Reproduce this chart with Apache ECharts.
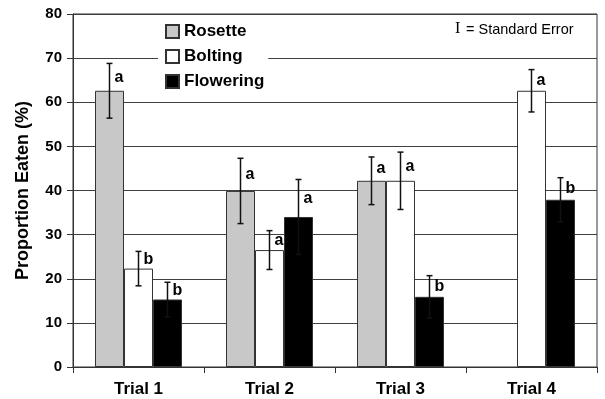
<!DOCTYPE html>
<html>
<head>
<meta charset="utf-8">
<script src="https://cdn.jsdelivr.net/npm/echarts@6/dist/echarts.min.js"></script>
<style>
html,body{margin:0;padding:0;background:#fff;}
#chart{width:605px;height:399px;}
</style>
</head>
<body>
<div id="chart"></div>
<script>
const categories = ['Trial 1', 'Trial 2', 'Trial 3', 'Trial 4'];
const seriesNames = ['Rosette', 'Bolting', 'Flowering'];
const rosette = [62.6, 39.9, 42.2, null];
const bolting = [22.3, 26.5, 42.2, 62.6];
const flowering = [15.3, 34.0, 15.9, 37.9];
const rosetteSE = [6.2, 7.4, 5.4, null];
const boltingSE = [3.9, 4.4, 6.5, 4.8];
const floweringSE = [3.9, 8.5, 4.8, 5.0];
const rosetteLetters = ['a', 'a', 'a', null];
const boltingLetters = ['b', 'a', 'a', 'a'];
const floweringLetters = ['b', 'a', 'b', 'b'];
const yTicks = [0, 10, 20, 30, 40, 50, 60, 70, 80];

const FONT = '"Liberation Sans", Arial, sans-serif';
const BAR_W = 29;
const values = [rosette, bolting, flowering];
const ses = [rosetteSE, boltingSE, floweringSE];
const letters = [rosetteLetters, boltingLetters, floweringLetters];
const fills = ['#c8c8c8', '#ffffff', '#000000'];

const chart = echarts.init(document.getElementById('chart'), null, {renderer: 'canvas'});

const barSeries = seriesNames.map((name, k) => ({
  name: name,
  type: 'bar',
  data: values[k],
  barWidth: BAR_W,
  barGap: '0%',
  itemStyle: {color: fills[k], borderColor: '#333', borderWidth: 1},
  z: 2
}));

const errSeries = seriesNames.map((name, k) => ({
  type: 'custom',
  name: name + ' SE',
  data: values[k].map((v, i) => [i, v, ses[k][i]]),
  z: 5,
  silent: true,
  renderItem: function (params, api) {
    const i = params.dataIndex;
    const v = values[k][i];
    const se = ses[k][i];
    if (v == null || se == null) return null;
    const offset = (k - 1) * BAR_W;
    const x = api.coord([i, v])[0] + offset;
    const yTop = api.coord([i, v + se])[1];
    const yBot = api.coord([i, v - se])[1];
    const yMid = api.coord([i, v + se / 2])[1];
    const cap = 3;
    const st = {stroke: '#111', lineWidth: 1.5};
    const children = [
      {type: 'line', shape: {x1: x, y1: yTop, x2: x, y2: yBot}, style: st},
      {type: 'line', shape: {x1: x - cap, y1: yTop, x2: x + cap, y2: yTop}, style: st},
      {type: 'line', shape: {x1: x - cap, y1: yBot, x2: x + cap, y2: yBot}, style: st}
    ];
    const lt = letters[k][i];
    if (lt) {
      children.push({
        type: 'text',
        style: {
          text: lt, x: x + 5, y: yMid,
          fill: '#000', font: 'bold 16px ' + FONT,
          align: 'left', verticalAlign: 'middle'
        }
      });
    }
    return {type: 'group', children: children};
  }
}));

const option = {
  animation: false,
  backgroundColor: '#fff',
  grid: {left: 73, right: 8, top: 14, bottom: 32, show: true, borderColor: '#333', borderWidth: 1, backgroundColor: 'transparent'},
  legend: {
    data: seriesNames,
    orient: 'vertical',
    left: 158,
    top: 19,
    padding: [4, 4, 4, 7],
    itemGap: 8,
    itemWidth: 13,
    itemHeight: 13,
    backgroundColor: '#fff',
    icon: 'rect',
    textStyle: {fontFamily: FONT, fontWeight: 'bold', fontSize: 17, color: '#000'}
  },
  xAxis: {
    type: 'category',
    data: categories,
    axisLine: {lineStyle: {color: '#333', width: 1}},
    axisTick: {show: true, length: 6, lineStyle: {color: '#333'}},
    axisLabel: {fontFamily: FONT, fontWeight: 'bold', fontSize: 17, color: '#000', margin: 14},
    splitLine: {show: false}
  },
  yAxis: {
    type: 'value',
    min: yTicks[0],
    max: yTicks[yTicks.length - 1],
    interval: 10,
    name: 'Proportion Eaten (%)',
    nameLocation: 'middle',
    nameGap: 41,
    nameTextStyle: {fontFamily: FONT, fontWeight: 'bold', fontSize: 18, color: '#000'},
    axisLine: {show: true, lineStyle: {color: '#333', width: 1}},
    axisTick: {show: true, length: 6, lineStyle: {color: '#333'}},
    axisLabel: {fontFamily: FONT, fontWeight: 'bold', fontSize: 15, color: '#000', margin: 11},
    splitLine: {show: true, lineStyle: {color: '#404040', width: 1.2}}
  },
  graphic: [
    {type: 'text', left: 455, top: 21, style: {text: 'I', font: '16px "Liberation Serif", "Times New Roman", serif', fill: '#000'}, z: 10},
    {type: 'text', left: 466, top: 22, style: {text: '= Standard Error', font: '14.5px ' + FONT, fill: '#000'}, z: 10}
  ],
  series: barSeries.concat(errSeries)
};

chart.setOption(option);
</script>
</body>
</html>
